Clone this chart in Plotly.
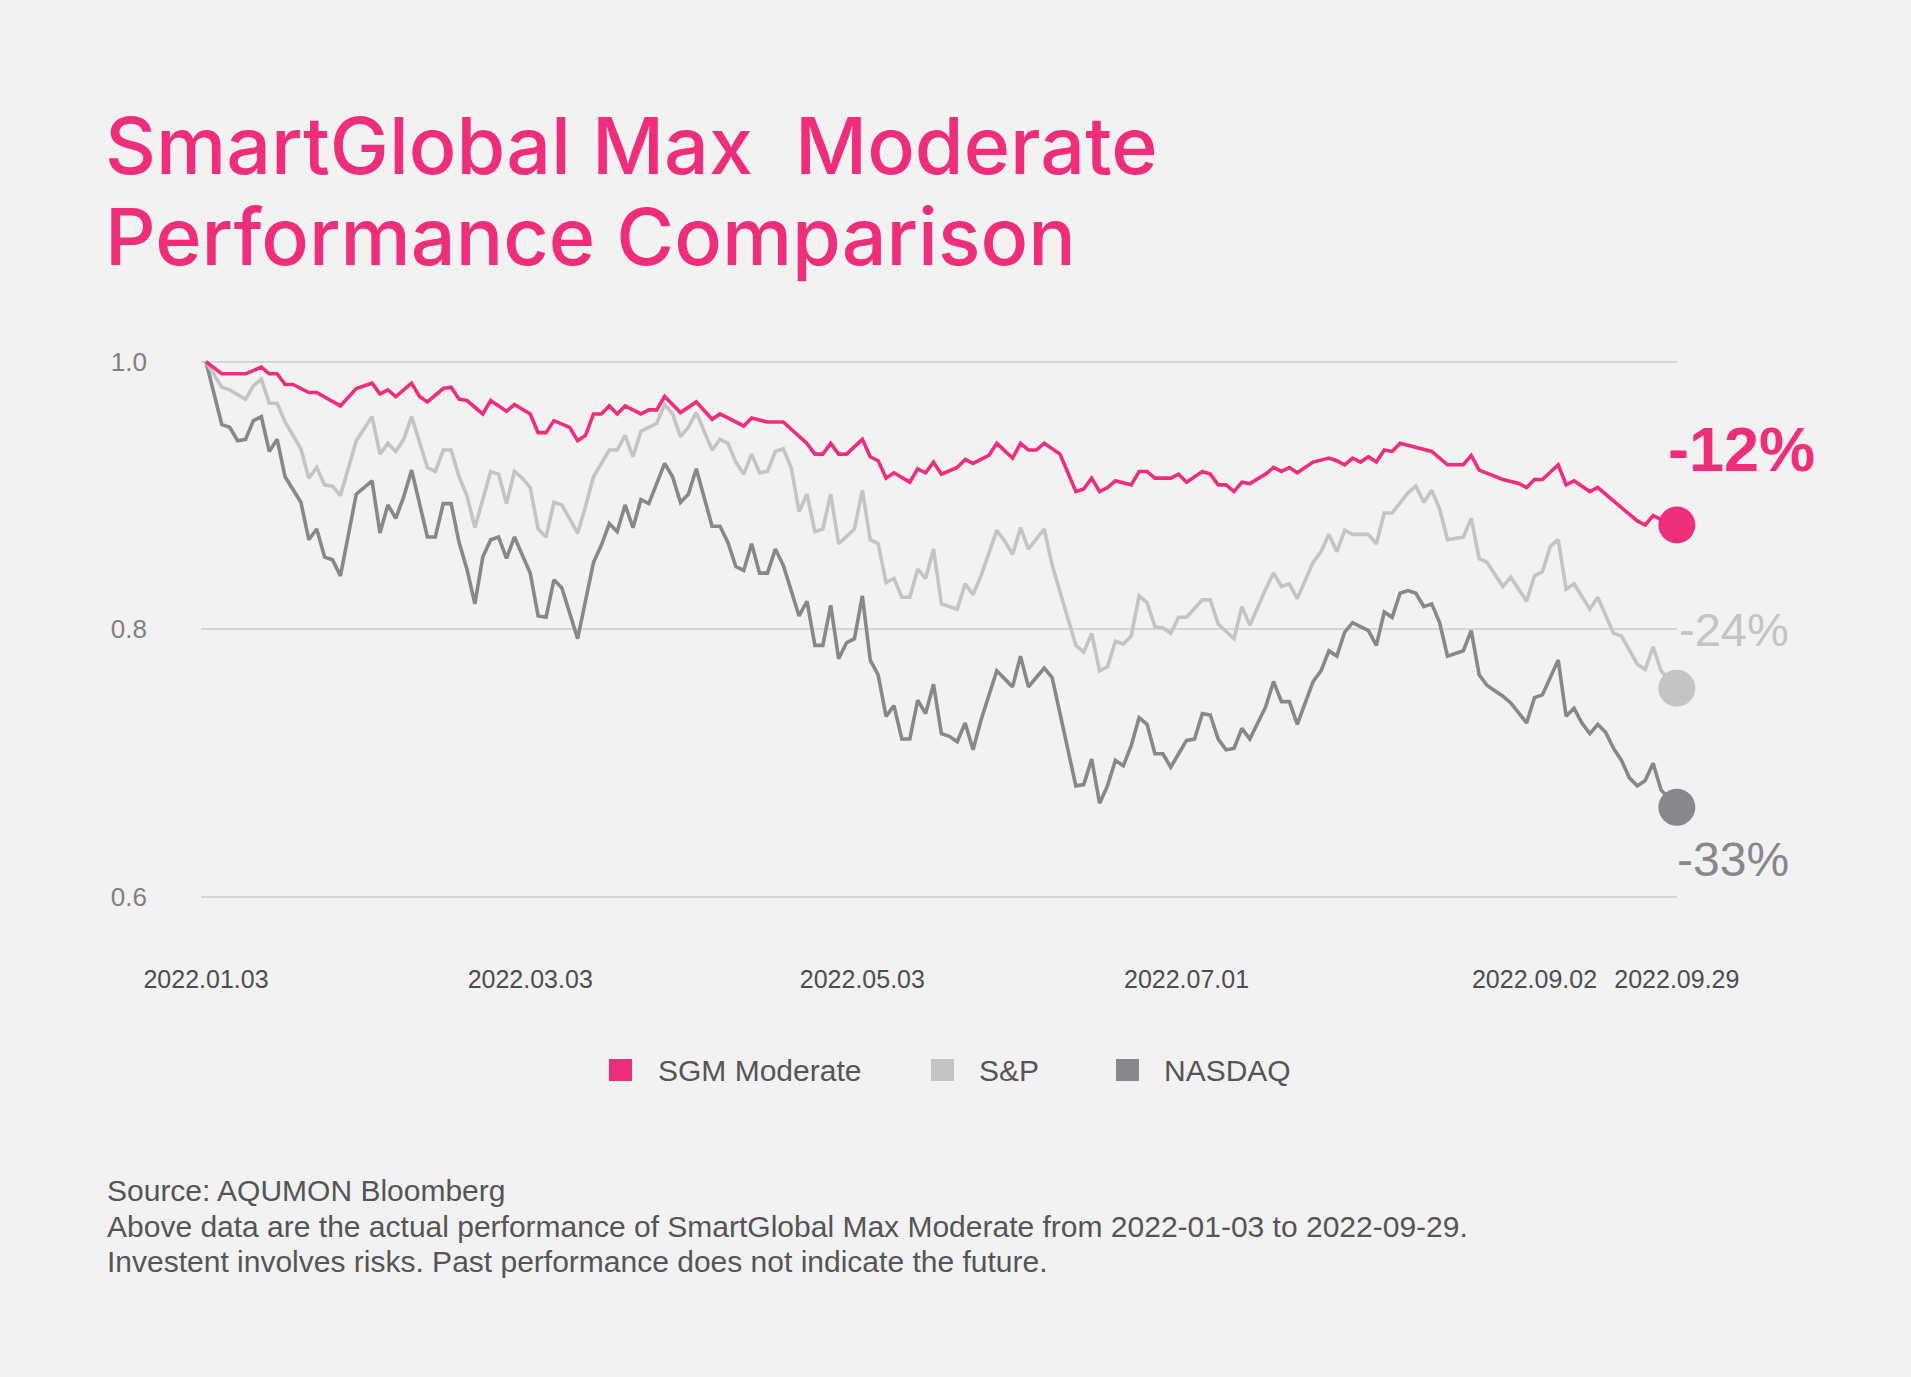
import pandas as pd
import plotly.graph_objects as go

# ---------------- data ----------------
HOLIDAYS = ["2022-01-17", "2022-02-21", "2022-04-15", "2022-05-30",
            "2022-06-20", "2022-07-04", "2022-09-05"]
TRADING_DAYS = [d.strftime("%Y-%m-%d") for d in pd.bdate_range("2022-01-03", "2022-09-29")
                if d.strftime("%Y-%m-%d") not in HOLIDAYS]

TICK_DATES = ["2022-01-03", "2022-03-03", "2022-05-03", "2022-07-01", "2022-09-02", "2022-09-29"]
TICK_LABELS = ["2022.01.03", "2022.03.03", "2022.05.03", "2022.07.01", "2022.09.02", "2022.09.29"]

Y_TICKS = [0.6, 0.8, 1.0]
Y_LABELS = ["0.6", "0.8", "1.0"]

SERIES_NAMES = ["SGM Moderate", "S&P", "NASDAQ"]

# trading-day number (0 = 2022-01-03) and normalised value
SGM_DAY = [0, 2, 5, 7, 8, 9, 10, 11, 13, 14, 17, 19, 21, 22, 23, 24, 26, 27, 28, 30, 31, 32, 33,
           35, 36, 38, 39, 41, 42, 43, 44, 46, 47, 48, 49, 50, 51, 52, 53, 55, 56, 57, 58, 60, 62,
           64, 65, 68, 69, 71, 73, 75, 76, 77, 78, 79, 80, 81, 83, 84, 85, 86, 87, 89, 90, 91, 92,
           93, 95, 96, 97, 99, 100, 102, 103, 104, 105, 106, 108, 109, 110, 111, 112, 113, 114,
           115, 117, 118, 119, 120, 122, 123, 124, 126, 127, 128, 129, 130, 131, 132, 134, 135,
           136, 137, 138, 140, 142, 143, 144, 145, 146, 147, 148, 149, 150, 151, 153, 155, 157,
           159, 160, 161, 164, 166, 167, 168, 169, 171, 172, 173, 175, 176, 179, 181, 182, 183,
           184, 186]
SGM_VAL = [1.000, 0.991, 0.991, 0.996, 0.991, 0.991, 0.983, 0.983, 0.977, 0.977, 0.967, 0.980,
           0.984, 0.976, 0.979, 0.974, 0.984, 0.974, 0.970, 0.980, 0.981, 0.972, 0.971,
           0.961, 0.971, 0.963, 0.968, 0.961, 0.947, 0.947, 0.956, 0.951, 0.941, 0.945, 0.961,
           0.961, 0.967, 0.961, 0.967, 0.961, 0.964, 0.964, 0.974, 0.962, 0.970,
           0.957, 0.961, 0.952, 0.958, 0.955, 0.955, 0.944, 0.939, 0.931, 0.931, 0.939, 0.931,
           0.931, 0.942, 0.929, 0.926, 0.913, 0.917, 0.910, 0.920, 0.917, 0.925,
           0.916, 0.921, 0.927, 0.924, 0.930, 0.939, 0.928, 0.939, 0.934, 0.934, 0.939, 0.931,
           0.917, 0.903, 0.905, 0.913, 0.903, 0.906,
           0.911, 0.908, 0.918, 0.918, 0.913, 0.913, 0.916, 0.910, 0.918, 0.916, 0.908, 0.908,
           0.903, 0.910, 0.909, 0.916, 0.921,
           0.918, 0.921, 0.917, 0.925, 0.928, 0.926, 0.923, 0.928, 0.925, 0.929, 0.925, 0.934,
           0.933, 0.939, 0.936, 0.933, 0.923,
           0.923, 0.930, 0.919, 0.912, 0.909, 0.906, 0.912, 0.912, 0.923, 0.908, 0.911, 0.903,
           0.906, 0.891, 0.881, 0.878, 0.885,
           0.882, 0.878]

SP_DAY = [0, 2, 3, 5, 6, 7, 8, 9, 10, 12, 13, 14, 15, 16, 17, 19, 21, 22, 23, 24, 25, 26, 28, 29,
          30, 31, 32, 33, 34, 36, 37, 38, 39, 40, 41, 42, 43, 44, 45, 47, 48, 49, 51, 52, 53, 54,
          55, 57, 58, 59, 60, 61, 62, 64, 65, 66, 67, 68, 69, 70, 71, 72, 73, 74, 75, 76, 77, 78,
          79, 80, 82, 83, 84, 85, 86, 87, 88, 89, 90, 91, 92, 93, 95, 96, 97, 98, 100, 101, 102,
          103, 104, 106, 107, 110, 111, 112, 113, 114, 115, 116, 117, 118, 119, 120, 121, 122,
          123, 124, 126, 127, 128, 130, 131, 132, 134, 135, 136, 137, 138, 140, 141, 142, 143,
          144, 145, 147, 148, 149, 150, 152, 153, 154, 155, 156, 157, 159, 160, 161, 162, 164,
          165, 167, 168, 169, 170, 171, 172, 173, 175, 176, 178, 179, 181, 182, 183, 184, 186]
SP_VAL = [1.000, 0.981, 0.979, 0.972, 0.982, 0.987, 0.969, 0.969, 0.955, 0.935, 0.913, 0.921,
          0.908, 0.907, 0.900, 0.941, 0.959, 0.931, 0.939, 0.933, 0.942, 0.959, 0.921, 0.918,
          0.934, 0.934, 0.914, 0.900, 0.876, 0.918, 0.916, 0.894, 0.918, 0.913, 0.906, 0.875,
          0.869, 0.895, 0.893, 0.872, 0.892, 0.914, 0.934, 0.934, 0.945, 0.929,
          0.948, 0.954, 0.968, 0.961, 0.944, 0.951, 0.962, 0.934, 0.942, 0.939, 0.925, 0.916,
          0.931, 0.917, 0.918, 0.933, 0.935, 0.921, 0.888, 0.901, 0.873, 0.875,
          0.901, 0.864, 0.875, 0.904, 0.867, 0.864, 0.835, 0.838, 0.824, 0.824, 0.845, 0.838,
          0.860, 0.819, 0.815, 0.834, 0.826, 0.840, 0.874, 0.866, 0.856,
          0.876, 0.860, 0.875, 0.848, 0.788, 0.783, 0.797, 0.769, 0.772, 0.791, 0.789, 0.795,
          0.825, 0.820, 0.802, 0.801, 0.797,
          0.809, 0.809, 0.822, 0.822, 0.804, 0.793, 0.817, 0.803, 0.830, 0.842, 0.832, 0.834,
          0.823, 0.850, 0.858, 0.871, 0.858,
          0.874, 0.871, 0.871, 0.864, 0.887, 0.887, 0.902, 0.907, 0.895, 0.904, 0.890, 0.867,
          0.869, 0.883, 0.853, 0.850, 0.832,
          0.839, 0.821, 0.840, 0.843, 0.862, 0.867, 0.830, 0.834, 0.815, 0.824, 0.797, 0.795,
          0.774, 0.770, 0.787, 0.769, 0.756]

NDQ_DAY = [0, 2, 3, 4, 5, 6, 7, 8, 9, 10, 12, 13, 14, 15, 16, 17, 19, 21, 22, 23, 24, 25, 26, 28,
           29, 30, 31, 32, 33, 34, 35, 36, 37, 38, 39, 41, 42, 43, 44, 45, 47, 49, 50, 51, 52, 53,
           54, 55, 56, 57, 58, 59, 60, 61, 62, 64, 65, 66, 67, 68, 69, 70, 71, 72, 73, 75, 76, 77,
           78, 79, 80, 81, 82, 83, 84, 85, 86, 87, 88, 89, 90, 91, 92, 93, 94, 95, 96, 97, 98,
           100, 102, 103, 104, 105, 106, 107, 110, 111, 112, 113, 114, 115, 116, 117, 118, 119,
           120, 121, 122, 123, 124, 125, 126, 127, 128, 129, 130, 131, 132, 134, 135, 136, 137,
           138, 140, 141, 142, 143, 144, 145, 147, 148, 149, 150, 151, 152, 153, 154, 155, 156,
           157, 159, 160, 161, 162, 164, 165, 167, 168, 169, 171, 172, 173, 174, 175, 176, 177,
           178, 179, 180, 181, 182, 183, 184, 186]
NDQ_VAL = [1.000, 0.953, 0.951, 0.941, 0.942, 0.956, 0.959, 0.933, 0.942, 0.914, 0.895, 0.867,
           0.875, 0.854, 0.852, 0.840, 0.901, 0.911, 0.872, 0.893, 0.883, 0.899, 0.919, 0.869,
           0.869, 0.894, 0.894, 0.865, 0.845, 0.819, 0.854, 0.867, 0.869, 0.853, 0.869, 0.842,
           0.810, 0.809, 0.837, 0.831, 0.793, 0.850, 0.863, 0.879, 0.873, 0.893,
           0.876, 0.897, 0.894, 0.909, 0.924, 0.914, 0.895, 0.901, 0.920, 0.877, 0.877, 0.865,
           0.847, 0.844, 0.864, 0.842, 0.842, 0.860, 0.848, 0.810, 0.821, 0.788,
           0.788, 0.818, 0.778, 0.790, 0.793, 0.825, 0.777, 0.766, 0.735, 0.743, 0.718, 0.718,
           0.747, 0.737, 0.759, 0.722, 0.720, 0.716, 0.730, 0.710, 0.732,
           0.769, 0.757, 0.780, 0.757, 0.764, 0.771, 0.764, 0.683, 0.684, 0.703, 0.670, 0.683,
           0.702, 0.698, 0.713, 0.734, 0.729,
           0.707, 0.707, 0.697, 0.707, 0.717, 0.718, 0.737, 0.736, 0.718, 0.710, 0.711, 0.726,
           0.718, 0.742, 0.761, 0.746, 0.746,
           0.729, 0.761, 0.769, 0.784, 0.780, 0.798, 0.805, 0.799, 0.788, 0.813, 0.809, 0.827,
           0.829, 0.827, 0.817, 0.819, 0.805,
           0.780, 0.784, 0.799, 0.766, 0.758, 0.750, 0.745, 0.730, 0.749, 0.751, 0.777, 0.735,
           0.741, 0.730, 0.722, 0.729, 0.723,
           0.711, 0.702, 0.689, 0.683, 0.687, 0.700, 0.680, 0.667]

# ---------------- styling ----------------
PINK = "#EE2E7B"
LIGHT = "#C4C4C4"
DARK = "#87878C"
BG = "#F2F2F2"
GRID = "#D5D5D5"
FONT = "Liberation Sans, Arial, sans-serif"
TITLE_FONT = "Inter, Liberation Sans, Arial, sans-serif"

W, H = 1911, 1377
L, R, T, B = 201, 234, 335, 460
PW, PH = W - L - R, H - T - B


def px(x):
    return (x - L) / PW


def py(y):
    return (H - B - y) / PH


series = [
    (SERIES_NAMES[2], NDQ_DAY, NDQ_VAL, DARK),
    (SERIES_NAMES[1], SP_DAY, SP_VAL, LIGHT),
    (SERIES_NAMES[0], SGM_DAY, SGM_VAL, PINK),
]

fig = go.Figure()
for name, days, vals, color in series:
    xs = [TRADING_DAYS[i] for i in days]
    fig.add_trace(go.Scatter(x=xs, y=vals, mode="lines", name=name,
                             line=dict(color=color, width=3.6), showlegend=False))
    fig.add_trace(go.Scatter(x=[xs[-1]], y=[vals[-1]], mode="markers", name=name,
                             marker=dict(color=color, size=37, line=dict(width=0)),
                             cliponaxis=False, showlegend=False))

annotations = []
shapes = []

# title
annotations.append(dict(text="SmartGlobal Max\u00a0 Moderate", x=px(103), y=py(145), xref="paper",
                        yref="paper", xanchor="left", yanchor="middle", showarrow=False,
                        font=dict(family=TITLE_FONT, size=79, color=PINK, weight=500)))
annotations.append(dict(text="Performance Comparison", x=px(103), y=py(236), xref="paper",
                        yref="paper", xanchor="left", yanchor="middle", showarrow=False,
                        font=dict(family=TITLE_FONT, size=79, color=PINK, weight=500)))

# end labels
end_specs = [
    (SGM_VAL[-1], PINK, 1666, 449, 63, True),
    (SP_VAL[-1], LIGHT, 1677, 629, 47, False),
    (NDQ_VAL[-1], DARK, 1675, 859, 48, False),
]
for val, color, xp, yp, size, bold in end_specs:
    label = f"{round((val - 1) * 100):d}%"
    txt = f"<b>{label}</b>" if bold else label
    annotations.append(dict(text=txt, x=px(xp), y=py(yp), xref="paper", yref="paper",
                            xanchor="left", yanchor="middle", showarrow=False,
                            font=dict(family=FONT, size=size, color=color)))

# legend (manual, square swatches)
legend_specs = [(SERIES_NAMES[0], PINK, 609, 658), (SERIES_NAMES[1], LIGHT, 931, 979),
                (SERIES_NAMES[2], DARK, 1116, 1164)]
for name, color, sx, tx in legend_specs:
    shapes.append(dict(type="rect", xref="paper", yref="paper", x0=px(sx), x1=px(sx + 23),
                       y0=py(1059), y1=py(1081), fillcolor=color, line=dict(width=0)))
    annotations.append(dict(text=name, x=px(tx - 2), y=py(1070), xref="paper", yref="paper",
                            xanchor="left", yanchor="middle", showarrow=False,
                            font=dict(family=FONT, size=30, color="#555555")))

# footer
footer = ["Source: AQUMON Bloomberg",
          "Above data are the actual performance of SmartGlobal Max Moderate from 2022-01-03 to 2022-09-29.",
          "Investent involves risks. Past performance does not indicate the future."]
for line, yc in zip(footer, [1190, 1226, 1261]):
    annotations.append(dict(text=line, x=px(105), y=py(yc), xref="paper", yref="paper",
                            xanchor="left", yanchor="middle", showarrow=False,
                            font=dict(family=FONT, size=30, color="#555555")))

fig.update_layout(
    width=W, height=H,
    margin=dict(l=L, r=R, t=T, b=B, autoexpand=False),
    paper_bgcolor=BG, plot_bgcolor=BG,
    showlegend=False,
    font=dict(family=FONT),
    annotations=annotations,
    shapes=shapes,
    xaxis=dict(type="category", categoryorder="array", categoryarray=TRADING_DAYS,
               range=[-0.632, 186.02], tickmode="array", tickvals=TICK_DATES,
               ticktext=TICK_LABELS, showgrid=False, zeroline=False, showline=False,
               ticks="", ticklabelstandoff=45,
               tickfont=dict(family=FONT, size=25, color="#4D4D4D")),
    yaxis=dict(range=[0.585, 1.02], tickmode="array", tickvals=Y_TICKS, ticktext=Y_LABELS,
               showgrid=True, gridcolor=GRID, gridwidth=2, zeroline=False, showline=False,
               ticks="", ticklabelstandoff=53,
               tickfont=dict(family=FONT, size=26, color="#808080")),
)

fig.write_html(
    "out.html",
    config={"displayModeBar": False},
    post_script=("document.body.style.margin='0';document.body.style.padding='0';"
                 "document.body.style.background='#F2F2F2';"
                 "document.documentElement.style.overflow='hidden';"),
)
